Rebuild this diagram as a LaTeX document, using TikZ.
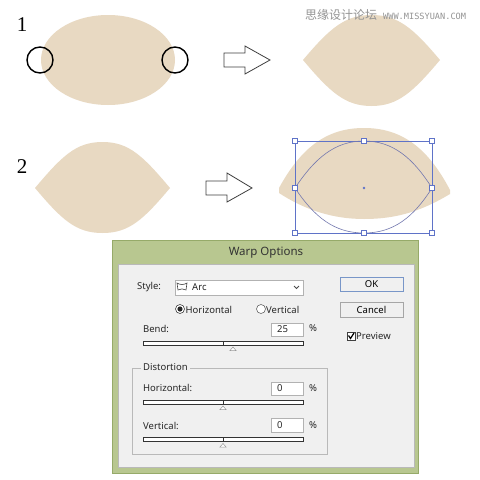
\documentclass[tikz,border=0pt]{standalone}
\usepackage{fontspec}
\setmainfont{Liberation Serif}
\newfontfamily\uifont{Noto Sans}
\newfontfamily\cjkfont{Noto Sans CJK SC}
\newfontfamily\pixfont{DejaVu Sans Mono}
\definecolor{beige}{RGB}{232,217,194}
\definecolor{dlggreen}{RGB}{184,199,144}
\definecolor{dlgedge}{RGB}{150,170,105}
\definecolor{panel}{RGB}{240,240,240}
\definecolor{selblue}{RGB}{95,115,200}
\definecolor{lensblue}{RGB}{115,120,175}
\definecolor{btnedge}{RGB}{120,150,200}
\begin{document}
\begin{tikzpicture}[x=1pt,y=-1pt,
  numlabel/.style={font=\fontsize{21}{24}\selectfont, inner sep=0pt},
  uitext/.style={font=\uifont\fontsize{9.5}{11}\selectfont, text=black!85, inner sep=0pt},
  field/.style={draw=gray!60, fill=white, line width=0.6pt},
  sliderbar/.style={draw=black!80, fill=white, line width=0.9pt},
  marker/.style={draw=gray!80, fill=white, line width=0.5pt},
  handle/.style={draw=selblue, fill=white, line width=0.6pt, minimum size=4.5pt, inner sep=0pt, rectangle},
  blockarrow/.style={draw=black!75, fill=white, line width=0.8pt, line join=miter},
  ring/.style={draw=black, line width=1.4pt, circle, minimum size=26pt, inner sep=0pt},
  button/.style={draw=gray!70, fill=gray!12, line width=0.6pt, rectangle, minimum width=63pt, minimum height=14.5pt, inner sep=0pt, font=\uifont\fontsize{9.5}{11}\selectfont}
]
\useasboundingbox (0,0) rectangle (480,480);
\fill[white] (0,0) rectangle (480,480);

% row 1
\node[numlabel] (n1) at (22,25) {1};
\fill[beige] (108,60) ellipse [x radius=67, y radius=45];
\node[ring] (c1) at (40,60) {};
\node[ring] (c2) at (175,60) {};
\draw[blockarrow] (224,53) -- (245,53) -- (245,46) -- (270,60) -- (245,74) -- (245,67) -- (224,67) -- cycle;
\fill[beige] (303,60) .. controls (330,28) and (345,15) .. (371.5,15)
  .. controls (398,15) and (413,28) .. (440,60)
  .. controls (413,92) and (398,106) .. (371.5,106)
  .. controls (345,106) and (330,92) .. (303,60) -- cycle;

% watermark (on top)
\node[anchor=west, inner sep=0pt, text=gray!85, font=\cjkfont\fontsize{12}{14}\selectfont] (wm1) at (305,15) {思缘设计论坛};
\node[anchor=west, inner sep=0pt, text=gray!85, font=\pixfont\fontsize{8.6}{10}\selectfont] (wm2) at (383,16) {WWW.MISSYUAN.COM};

% row 2
\node[numlabel] (n2) at (22,167) {2};
\fill[beige] (35,188) .. controls (62,156) and (76,142) .. (102.5,142)
  .. controls (129,142) and (143,156) .. (170,188)
  .. controls (143,220) and (129,233) .. (102.5,233)
  .. controls (76,233) and (62,220) .. (35,188) -- cycle;
\draw[blockarrow] (206,181) -- (227,181) -- (227,173) -- (252,188) -- (227,202) -- (227,195) -- (206,195) -- cycle;
\fill[beige] (279,188) .. controls (302,146) and (328,128) .. (364,128)
  .. controls (400,128) and (427,146) .. (450,190)
  -- (450,194)
  .. controls (420,212) and (395,219) .. (364,219)
  .. controls (333,219) and (305,210) .. (279,193) -- cycle;

% selection
\coordinate (tl) at (295,141);
\coordinate (br) at (432,233);
\draw[selblue, line width=0.6pt] (tl) rectangle (br);
\coordinate (lm) at (295,188);
\coordinate (rm) at (432,188);
\coordinate (tm) at (364,141);
\coordinate (bm) at (364,233);
\draw[lensblue, line width=0.6pt] (lm) .. controls (315,158) and (335,141) .. (tm)
  .. controls (393,141) and (413,158) .. (rm)
  .. controls (413,218) and (393,233) .. (bm)
  .. controls (335,233) and (315,218) .. (lm);
\foreach \p/\q in {295/141,364/141,432/141,295/188,432/188,295/233,364/233,432/233}
  \node[handle] at (\p,\q) {};
\fill[selblue] (364,188) circle (1.3);

% dialog
\draw[dlgedge, fill=dlggreen, line width=0.6pt] (112,240) rectangle (418,473);
\draw[gray!55, fill=panel, line width=0.6pt] (118,264) rectangle (414,467);
\node[font=\uifont\fontsize{11.5}{13}\selectfont, text=black!80, inner sep=0pt] (title) at (266,253) {Warp Options};

\node[uitext, anchor=west] (style) at (137,287) {Style:};
\draw[field] (175,280) rectangle (303,295);
\draw[black!75, line width=0.6pt] (177,283) .. controls (180,285) and (184,285) .. (187,283) -- (186,290) .. controls (183,288.5) and (181,288.5) .. (178,290) -- cycle;
\node[uitext, anchor=west] (arc) at (192,287.5) {Arc};
\draw[black!70, line width=0.8pt] (294,286) -- (296.5,288.5) -- (299,286);

\node[button, draw=btnedge] (ok) at (371.5,284.5) {OK};
\node[button] (cancel) at (371.5,310) {Cancel};

\draw[black!75, fill=white, line width=0.6pt] (180,309) circle (4.5);
\fill[black!85] (180,309) circle (2.6);
\node[uitext, anchor=west] (hor) at (185.5,309.5) {Horizontal};
\draw[black!60, fill=white, line width=0.6pt] (261,309) circle (4.5);
\node[uitext, anchor=west] (ver) at (266,309.5) {Vertical};

\node[uitext, anchor=west] (bend) at (143,329) {Bend:};
\draw[field] (271,323) rectangle (303,336);
\node[uitext, anchor=west] (bendv) at (277,329.5) {25};
\node[uitext, anchor=west] (pc1) at (309,328.5) {\%};
\draw[black!75, fill=white, line width=0.6pt] (347,332) rectangle (355,340);
\draw[black, line width=1.2pt] (348.5,335.5) -- (350.5,338.5) -- (354,333);
\node[uitext, anchor=west] (prev) at (356,336.5) {Preview};
\draw[sliderbar] (143,341) rectangle (303,345);
\draw[black!80, line width=0.8pt] (223,341) -- (223,345);
\draw[marker] (233,347) -- (236,350.5) -- (230,350.5) -- cycle;

\draw[gray!55, line width=0.6pt] (132,368) rectangle (327,454);
\node[uitext, anchor=west, fill=panel, inner xsep=2pt] (dist) at (141,367) {Distortion};

\node[uitext, anchor=west] (dh) at (143,388) {Horizontal:};
\draw[field] (271,382) rectangle (303,395);
\node[uitext, anchor=west] (dhv) at (277,388.5) {0};
\node[uitext, anchor=west] (pc2) at (309,388) {\%};
\draw[sliderbar] (143,400) rectangle (303,404);
\draw[black!80, line width=0.8pt] (223,400) -- (223,404);
\draw[marker] (223,406) -- (226,409.5) -- (220,409.5) -- cycle;

\node[uitext, anchor=west] (dv) at (143,426) {Vertical:};
\draw[field] (271,418) rectangle (303,432);
\node[uitext, anchor=west] (dvv) at (277,425.5) {0};
\node[uitext, anchor=west] (pc3) at (309,425) {\%};
\draw[sliderbar] (143,437) rectangle (303,441.5);
\draw[black!80, line width=0.8pt] (223,437) -- (223,441.5);
\draw[marker] (223,443.5) -- (226,447) -- (220,447) -- cycle;
\end{tikzpicture}
\end{document}
